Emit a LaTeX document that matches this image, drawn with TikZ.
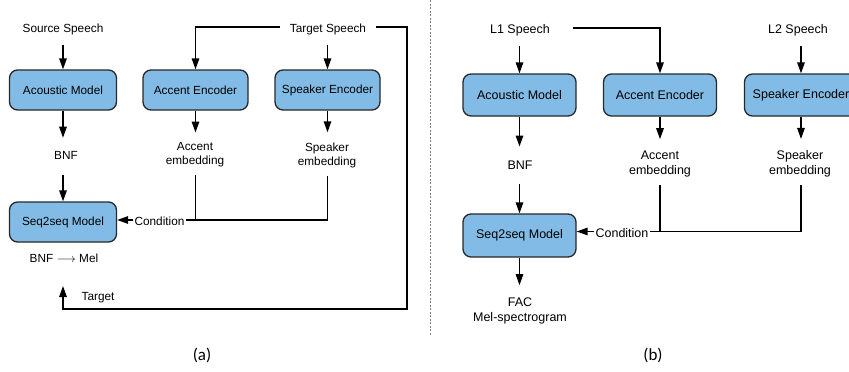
\documentclass[tikz,border=0pt]{standalone}
\usepackage{fontspec}
\setmainfont{Liberation Sans}
\newfontfamily\capfont{Carlito}
\usetikzlibrary{arrows.meta,calc}
\definecolor{boxblue}{RGB}{130,188,230}
\definecolor{boxedge}{RGB}{40,40,40}
\tikzset{
  arr/.style={-{Triangle[length=11pt,width=7.5pt]}, line width=1.4pt},
  ln/.style={line width=1.4pt},
  boxa/.style={draw=boxedge, fill=boxblue, line width=1.3pt, rounded corners=8pt,
    minimum width=107pt, minimum height=40pt, font=\fontsize{11.8}{13}\selectfont},
  boxb/.style={draw=boxedge, fill=boxblue, line width=1.3pt, rounded corners=8pt,
    minimum width=113pt, minimum height=42pt, font=\fontsize{12.5}{14}\selectfont},
  lbla/.style={inner sep=0pt, align=center, font=\fontsize{11.8}{14}\selectfont},
  lblb/.style={inner sep=0pt, align=center, font=\fontsize{12.5}{15}\selectfont},
  captext/.style={inner sep=0pt, font=\capfont\fontsize{17}{20}\selectfont},
}
\begin{document}
\begin{tikzpicture}[x=1pt,y=-1pt]
\useasboundingbox (0,0) rectangle (849,372);
\begin{scope}
\clip (0,0) rectangle (849,372);
% ---------- panel (a)
\node[boxa] (am) at (63,90) {Acoustic Model};
\node[boxa, minimum width=105pt] (ae) at (195.5,90) {Accent Encoder};
\node[boxa, minimum width=105pt] (se) at (327.5,90) {Speaker Encoder};
\node[boxa] (s2s) at (63,222) {Seq2seq Model};
\node[lbla] (src) at (63,29) {Source Speech};
\node[lbla] (tgt) at (328,29) {Target Speech};
\node[lbla] (bnf) at (66,155) {BNF};
\node[lbla] (aemb) at (195,155) {Accent\\embedding};
\node[lbla] (semb) at (327,155) {Speaker\\embedding};
\node[lbla, fill=white, inner xsep=1pt] (cond) at (159.5,221) {Condition};
\node[lbla] (bm) at (64,258) {BNF $\longrightarrow$ Mel};
\node[lbla] (tlab) at (98,298) {Target};
\node[captext] (capa) at (202,355) {(a)};
\coordinate (rc) at (407,309);
\coordinate (tt) at (63,286);

\draw[arr, shorten <=10pt] (src.south) -- (src.south |- am.north);
\draw[arr] ([xshift=-10pt,yshift=2pt]tgt.west) -| (ae.north);
\draw[arr, shorten <=10pt] (se.north |- tgt.south) -- (se.north);
\draw[arr] ([xshift=10pt,yshift=2pt]tgt.east) -| (rc) -| (tt);
\draw[arr, shorten >=13pt] (am.south) -- (am.south |- bnf.north);
\draw[arr, shorten <=16pt] (s2s.north |- bnf.south) -- (s2s.north);
\draw[arr, shorten >=10pt] (ae.south) -- (ae.south |- aemb.north);
\draw[arr, shorten >=10pt] (se.south) -- (se.south |- semb.north);
\draw[ln, shorten <=8pt] (ae.south |- aemb.south) |- ([yshift=1pt]cond.east);
\draw[ln, shorten <=8pt] (se.south |- semb.south) |- ([yshift=1pt]cond.east);
\draw[arr] ([yshift=1pt]cond.west) -- ([yshift=1pt]cond.west -| s2s.east);

% ---------- divider
\draw[gray, line width=0.9pt, dash pattern=on 2pt off 1.5pt] (430,0) -- (430,335);

% ---------- panel (b)
\node[boxb] (am2) at (519.5,95) {Acoustic Model};
\node[boxb] (ae2) at (660,95) {Accent Encoder};
\node[boxb] (se2) at (801,95) {Speaker Encoder};
\node[boxb, minimum height=43pt] (s2s2) at (519.5,235.5) {Seq2seq Model};
\node[lblb] (l1) at (520,30) {L1 Speech};
\node[lblb] (l2) at (798,30) {L2 Speech};
\node[lblb] (bnf2) at (520,165) {BNF};
\node[lblb] (aemb2) at (660,163.5) {Accent\\embedding};
\node[lblb] (semb2) at (800,163.5) {Speaker\\embedding};
\node[lblb, inner xsep=1pt] (cond2) at (622,233) {Condition};
\node[lblb] (fac) at (520,310.5) {FAC\\Mel-spectrogram};
\node[captext] (capb) at (653,355) {(b)};

\draw[arr, shorten <=10pt] (am2.north |- l1.south) -- (am2.north);
\draw[arr] ([xshift=23pt,yshift=2pt]l1.east) -| (ae2.north);
\draw[arr, shorten <=10pt] (se2.north |- l2.south) -- (se2.north);
\draw[arr, shorten >=14pt] (am2.south) -- (am2.south |- bnf2.north);
\draw[arr, shorten <=14pt] (s2s2.north |- bnf2.south) -- (s2s2.north);
\draw[arr, shorten >=11pt] (ae2.south) -- (ae2.south |- aemb2.north);
\draw[arr, shorten >=11pt] (se2.south) -- (se2.south |- semb2.north);
\draw[ln, shorten <=8pt] (ae2.south |- aemb2.south) |- ([yshift=1.5pt]cond2.east);
\draw[ln, shorten <=8pt] (se2.south |- semb2.south) |- ([yshift=1.5pt]cond2.east);
\draw[arr] ([yshift=1.5pt]cond2.west) -- ([yshift=1.5pt]cond2.west -| s2s2.east);
\draw[arr, shorten >=12pt] (s2s2.south) -- (s2s2.south |- fac.north);
\end{scope}
\end{tikzpicture}
\end{document}
